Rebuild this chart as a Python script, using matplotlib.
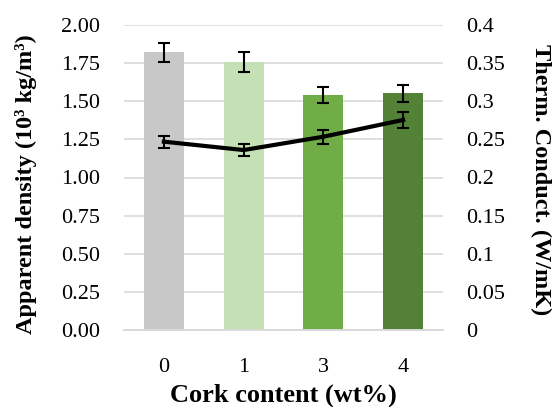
import matplotlib
matplotlib.use('Agg')
import matplotlib.pyplot as plt
import numpy as np

# Data
categories = ['0', '1', '3', '4']
density = [1.82, 1.76, 1.543, 1.552]
density_err = [0.065, 0.065, 0.053, 0.057]
conductivity = [0.247, 0.236, 0.2535, 0.2755]
conductivity_err = [0.008, 0.008, 0.009, 0.010]
bar_colors = ['#c8c8c8', '#c5e0b4', '#70ad47', '#538135']

left_ticks = [0.0, 0.25, 0.5, 0.75, 1.0, 1.25, 1.5, 1.75, 2.0]
right_ticks = [0, 0.05, 0.1, 0.15, 0.2, 0.25, 0.3, 0.35, 0.4]
right_labels = ['0', '0.05', '0.1', '0.15', '0.2', '0.25', '0.3', '0.35', '0.4']

plt.rcParams['font.family'] = ['Liberation Serif', 'DejaVu Serif']

fig = plt.figure(figsize=(5.52, 4.07), dpi=100)
ax1 = fig.add_axes([124 / 552, 1 - 330 / 407, 319 / 552, 305 / 407])
ax2 = ax1.twinx()

x = np.arange(len(categories))
ax1.bar(x, density, width=0.5, color=bar_colors, zorder=2)
ax1.errorbar(x, density, yerr=density_err, fmt='none', ecolor='black',
             elinewidth=1.5, capsize=4.5, capthick=1.5, zorder=3)

ax2.plot(x, conductivity, color='black', linewidth=3, zorder=4)
ax2.errorbar(x, conductivity, yerr=conductivity_err, fmt='none', ecolor='black',
             elinewidth=1.5, capsize=4.5, capthick=1.5, zorder=4)

ax1.set_xlim(-0.5, 3.5)
ax1.set_ylim(0, 2.0)
ax2.set_ylim(0, 0.4)

ax1.set_yticks(left_ticks)
ax1.set_yticklabels([f'{v:.2f}' for v in left_ticks])
ax2.set_yticks(right_ticks)
ax2.set_yticklabels(right_labels)
ax1.set_xticks(x)
ax1.set_xticklabels(categories)

ax1.yaxis.grid(True, color='#d9d9d9', linewidth=1.2, zorder=0)
ax1.set_axisbelow(True)

for ax in (ax1, ax2):
    for s in ['top', 'left', 'right']:
        ax.spines[s].set_visible(False)
    ax.spines['bottom'].set_color('#d9d9d9')
    ax.spines['bottom'].set_linewidth(1.2)
    ax.tick_params(length=0, labelsize=16)

ax1.tick_params(axis='x', pad=20)
ax1.tick_params(axis='y', pad=17)
ax2.tick_params(axis='y', pad=17)

ax1.set_xlabel('Cork content (wt%)', fontsize=19, fontweight='bold', va='center')
ax1.xaxis.set_label_coords(0.5, -0.213)
ax1.set_ylabel('Apparent density (10³ kg/m³)',
               fontsize=17.5, fontweight='bold', va='center')
ax1.yaxis.set_label_coords(-0.307, 0.479)
ax2.set_ylabel('Therm. Conduct. (W/mK)', fontsize=17.5, fontweight='bold',
               rotation=270, va='center')
ax2.yaxis.set_label_coords(1.305, 0.492)

fig.savefig('out.png', dpi=100)
